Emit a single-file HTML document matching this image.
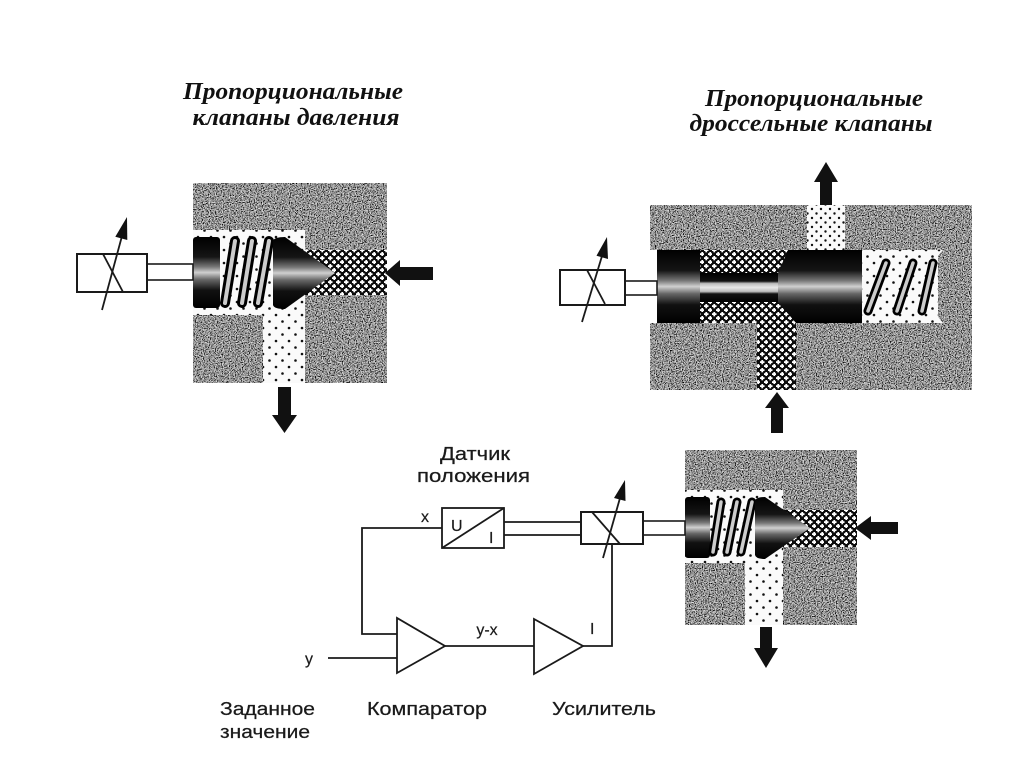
<!DOCTYPE html>
<html><head><meta charset="utf-8"><style>
html,body{margin:0;padding:0;background:#fff;}
svg{display:block;}
.t{font-family:"Liberation Serif","Noto Serif CJK SC",serif;font-weight:bold;font-style:italic;font-size:24px;fill:#111;}
.s{font-family:"Liberation Sans","Noto Sans CJK SC",sans-serif;font-size:18.5px;fill:#1a1a1a;stroke:#1a1a1a;stroke-width:0.25;}
.m{font-family:"Liberation Sans","Noto Sans CJK SC",sans-serif;font-size:16px;fill:#1a1a1a;stroke:#1a1a1a;stroke-width:0.2;}
.ln{stroke:#1a1a1a;stroke-width:1.8;fill:none;}
</style></head><body>
<svg width="1024" height="767" viewBox="0 0 1024 767" xmlns="http://www.w3.org/2000/svg">
<defs>
  <filter id="nz" x="0" y="0" width="100%" height="100%">
    <feTurbulence type="fractalNoise" baseFrequency="0.85" numOctaves="2" seed="4" result="t"/>
    <feColorMatrix in="t" type="matrix" values="1.9 0 0 0 -0.63  1.9 0 0 0 -0.63  1.9 0 0 0 -0.63  0 0 0 0 1" result="g"/>
    <feComposite in="g" in2="SourceGraphic" operator="in"/>
  </filter>
  <pattern id="xh" width="8" height="8" patternUnits="userSpaceOnUse">
    <rect width="8" height="8" fill="#0c0c0c"/>
    <rect x="0" y="1.2" width="4.5" height="1.8" fill="#fff"/>
    <rect x="1.35" y="0" width="1.8" height="4.3" fill="#fff"/>
    <rect x="4" y="5.2" width="4.5" height="1.8" fill="#fff"/>
    <rect x="5.35" y="4" width="1.8" height="4.3" fill="#fff"/>
  </pattern>
  <pattern id="dt" width="13" height="13" patternUnits="userSpaceOnUse">
    <rect width="13" height="13" fill="#fafafa"/>
    <circle cx="3" cy="3" r="1.3" fill="#111"/>
    <circle cx="9.5" cy="9.5" r="1.3" fill="#111"/>
  </pattern>
  <pattern id="dt2" width="9" height="9" patternUnits="userSpaceOnUse">
    <rect width="9" height="9" fill="#fafafa"/>
    <circle cx="2" cy="2" r="1.2" fill="#111"/>
    <circle cx="6.5" cy="6.5" r="1.2" fill="#111"/>
  </pattern>
  <linearGradient id="cy" x1="0" y1="0" x2="0" y2="1">
    <stop offset="0" stop-color="#000"/>
    <stop offset="0.28" stop-color="#151515"/>
    <stop offset="0.42" stop-color="#777"/>
    <stop offset="0.5" stop-color="#d0d0d0"/>
    <stop offset="0.6" stop-color="#666"/>
    <stop offset="0.75" stop-color="#111"/>
    <stop offset="1" stop-color="#000"/>
  </linearGradient>
  <linearGradient id="st" x1="0" y1="0" x2="0" y2="1">
    <stop offset="0" stop-color="#000"/>
    <stop offset="0.28" stop-color="#111"/>
    <stop offset="0.36" stop-color="#bbb"/>
    <stop offset="0.5" stop-color="#e8e8e8"/>
    <stop offset="0.64" stop-color="#bbb"/>
    <stop offset="0.72" stop-color="#111"/>
    <stop offset="1" stop-color="#000"/>
  </linearGradient>
</defs>

<!-- Titles -->
<text class="t" x="293" y="99" text-anchor="middle" textLength="220" lengthAdjust="spacingAndGlyphs">Пропорциональные</text>
<text class="t" x="296" y="125" text-anchor="middle" textLength="207" lengthAdjust="spacingAndGlyphs">клапаны давления</text>
<text class="t" x="814" y="106" text-anchor="middle" textLength="218" lengthAdjust="spacingAndGlyphs">Пропорциональные</text>
<text class="t" x="811" y="131" text-anchor="middle" textLength="243" lengthAdjust="spacingAndGlyphs">дроссельные клапаны</text>

<!-- ===== Top-left valve ===== -->
<rect x="193" y="183" width="194" height="200" fill="#888" filter="url(#nz)"/>
<path d="M193,230 H305 V383 H263 V315 H193 Z" fill="url(#dt)"/>
<rect x="305" y="250" width="82" height="45" fill="url(#xh)"/>
<rect x="193" y="237" width="27" height="71" rx="3" fill="url(#cy)"/>
<g stroke-linecap="round">
  <line x1="225" y1="303" x2="235" y2="241" stroke="#000" stroke-width="10"/>
  <line x1="225" y1="303" x2="235" y2="241" stroke="#ccc" stroke-width="4"/>
  <line x1="242" y1="303" x2="252" y2="241" stroke="#000" stroke-width="10"/>
  <line x1="242" y1="303" x2="252" y2="241" stroke="#ccc" stroke-width="4"/>
  <line x1="258" y1="303" x2="269" y2="241" stroke="#000" stroke-width="10"/>
  <line x1="258" y1="303" x2="269" y2="241" stroke="#ccc" stroke-width="4"/>
</g>
<path d="M273,241 Q274,237 285,237 L335,273 L285,309 Q274,309 273,305 Z" fill="url(#cy)"/>
<rect x="147" y="264" width="46" height="16" fill="#fff" stroke="#1a1a1a" stroke-width="1.6"/>
<rect x="77" y="254" width="70" height="38" fill="#fff" stroke="#1a1a1a" stroke-width="2"/>
<line class="ln" x1="103" y1="254" x2="123" y2="292"/>
<line class="ln" x1="102" y1="310" x2="122" y2="236"/>
<polygon points="127,217 127.3,240 115.3,236.7" fill="#111"/>
<polygon points="278,387 291,387 291,415 297,415 284.5,433 272,415 278,415" fill="#111"/>
<polygon points="433,267 433,280 400,280 400,286 385,273 400,260 400,267" fill="#111"/>

<!-- ===== Top-right valve ===== -->
<rect x="650" y="205" width="322" height="185" fill="#888" filter="url(#nz)"/>
<rect x="650" y="250" width="8" height="73" fill="#fff"/>
<rect x="700" y="250" width="100" height="73" fill="url(#xh)"/>
<rect x="757" y="318" width="39" height="72" fill="url(#xh)"/>
<rect x="657" y="250" width="43" height="73" fill="url(#cy)"/>
<polygon points="700,273 783,273 796,287.5 783,302 700,302" fill="url(#st)"/>
<polygon points="788,250 862,250 862,323 796,323 778,302 778,273 790,287.5 778,273" fill="url(#cy)"/>
<path d="M862,250 H943 L938,256 V317 L943,323 H862 Z" fill="url(#dt)"/>
<g stroke-linecap="round">
  <line x1="868" y1="311" x2="886" y2="263" stroke="#000" stroke-width="9"/>
  <line x1="868" y1="311" x2="886" y2="263" stroke="#ccc" stroke-width="3.5"/>
  <line x1="897" y1="311" x2="913" y2="263" stroke="#000" stroke-width="9"/>
  <line x1="897" y1="311" x2="913" y2="263" stroke="#ccc" stroke-width="3.5"/>
  <line x1="922" y1="311" x2="933" y2="263" stroke="#000" stroke-width="9"/>
  <line x1="922" y1="311" x2="933" y2="263" stroke="#ccc" stroke-width="3.5"/>
</g>
<rect x="807" y="205" width="38" height="45" fill="url(#dt2)"/>
<rect x="625" y="281" width="32" height="14" fill="#fff" stroke="#1a1a1a" stroke-width="1.6"/>
<rect x="560" y="270" width="65" height="35" fill="#fff" stroke="#1a1a1a" stroke-width="2"/>
<line class="ln" x1="587" y1="270" x2="605" y2="304"/>
<line class="ln" x1="582" y1="322" x2="602" y2="256"/>
<polygon points="607,237 608,259 596.5,255.7" fill="#111"/>
<polygon points="820,205 832,205 832,182 838,182 826,162 814,182 820,182" fill="#111"/>
<polygon points="771,433 783,433 783,408 789,408 777,392 765,408 771,408" fill="#111"/>

<!-- ===== Bottom valve ===== -->
<rect x="685" y="450" width="172" height="175" fill="#888" filter="url(#nz)"/>
<path d="M685,490 H783 V625 H745 V563 H685 Z" fill="url(#dt)"/>
<rect x="783" y="510" width="74" height="37" fill="url(#xh)"/>
<rect x="685" y="497" width="25" height="61" rx="3" fill="url(#cy)"/>
<g stroke-linecap="round">
  <line x1="713" y1="552" x2="721" y2="502" stroke="#000" stroke-width="9"/>
  <line x1="713" y1="552" x2="721" y2="502" stroke="#ccc" stroke-width="3.5"/>
  <line x1="727" y1="552" x2="737" y2="502" stroke="#000" stroke-width="9"/>
  <line x1="727" y1="552" x2="737" y2="502" stroke="#ccc" stroke-width="3.5"/>
  <line x1="741" y1="552" x2="752" y2="502" stroke="#000" stroke-width="9"/>
  <line x1="741" y1="552" x2="752" y2="502" stroke="#ccc" stroke-width="3.5"/>
</g>
<path d="M755,501 Q756,497 765,497 L810,528 L765,559 Q756,559 755,555 Z" fill="url(#cy)"/>
<rect x="643" y="521" width="42" height="14" fill="#fff" stroke="#1a1a1a" stroke-width="1.6"/>
<rect x="581" y="512" width="62" height="32" fill="#fff" stroke="#1a1a1a" stroke-width="2"/>
<line class="ln" x1="592" y1="512" x2="620" y2="544"/>
<line class="ln" x1="603" y1="558" x2="620" y2="498"/>
<polygon points="625,480 625.5,501 614,498" fill="#111"/>
<polygon points="898,522 898,534 871,534 871,540 855,528 871,516 871,522" fill="#111"/>
<polygon points="760,627 772,627 772,648 778,648 766,668 754,648 760,648" fill="#111"/>

<!-- ===== Circuit ===== -->
<line class="ln" x1="504" y1="522" x2="581" y2="522"/>
<line class="ln" x1="504" y1="535" x2="581" y2="535"/>
<rect x="442" y="508" width="62" height="40" fill="#fff" stroke="#1a1a1a" stroke-width="1.8"/>
<line class="ln" x1="442" y1="548" x2="504" y2="508"/>
<text class="m" x="451" y="531">U</text>
<text class="m" x="489" y="543">I</text>
<text class="m" x="421" y="522">x</text>
<polyline class="ln" points="442,528 362,528 362,634 397,634"/>
<line class="ln" x1="328" y1="658" x2="397" y2="658"/>
<polygon points="397,618 397,673 445,646" fill="#fff" stroke="#1a1a1a" stroke-width="1.8"/>
<line class="ln" x1="445" y1="646" x2="534" y2="646"/>
<polygon points="534,619 534,674 583,646" fill="#fff" stroke="#1a1a1a" stroke-width="1.8"/>
<polyline class="ln" points="583,646 612,646 612,544"/>
<text class="m" x="487" y="635" text-anchor="middle">y-x</text>
<text class="m" x="590" y="634">I</text>
<text class="m" x="305" y="664">y</text>

<text class="s" x="440" y="460" textLength="70" lengthAdjust="spacingAndGlyphs">Датчик</text>
<text class="s" x="417" y="482" textLength="113" lengthAdjust="spacingAndGlyphs">положения</text>
<text class="s" x="220" y="715" textLength="95" lengthAdjust="spacingAndGlyphs">Заданное</text>
<text class="s" x="220" y="738" textLength="90" lengthAdjust="spacingAndGlyphs">значение</text>
<text class="s" x="367" y="715" textLength="120" lengthAdjust="spacingAndGlyphs">Компаратор</text>
<text class="s" x="552" y="715" textLength="104" lengthAdjust="spacingAndGlyphs">Усилитель</text>
</svg>
</body></html>
